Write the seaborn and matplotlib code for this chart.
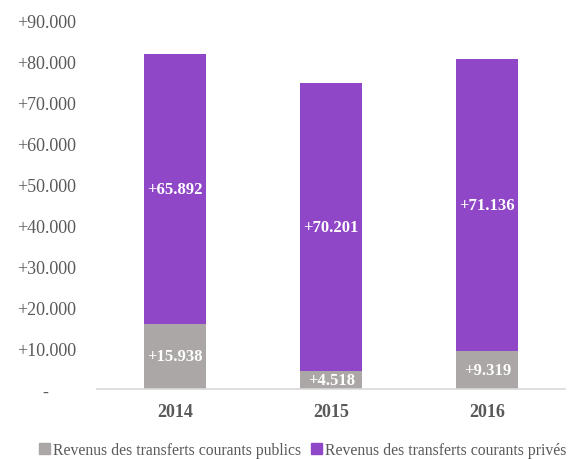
import pandas as pd
import seaborn as sns
import matplotlib.pyplot as plt
from matplotlib.patches import Patch

# Data
years = ['2014', '2015', '2016']
publics = [15938, 4518, 9319]
prives = [65892, 70201, 71136]
yticks = [0, 10000, 20000, 30000, 40000, 50000, 60000, 70000, 80000, 90000]

grey = '#ABA7A6'
purple = '#8F47C8'
text_grey = '#595959'

df = pd.DataFrame({'year': years, 'publics': publics, 'prives': prives})
df['total'] = df['publics'] + df['prives']

sns.set_style('white')
plt.rcParams['font.family'] = ['Liberation Serif', 'DejaVu Serif']

fig = plt.figure(figsize=(5.71, 4.6), dpi=100)
ax = fig.add_axes([0.17, 0.152, 0.82, 0.802])

# stacked: full total in purple, public part drawn over it in grey
sns.barplot(data=df, x='year', y='total', color=purple, width=0.4,
            saturation=1, linewidth=0, ax=ax)
sns.barplot(data=df, x='year', y='publics', color=grey, width=0.4,
            saturation=1, linewidth=0, ax=ax)

fmt = lambda v: '+' + f'{v:,}'.replace(',', '.')

ax.set_xlim(-0.5, 2.5)
ax.set_ylim(0, 90000)
ax.set_yticks(yticks)
ax.set_yticklabels(['-      ' if v == 0 else fmt(v) for v in yticks],
                   fontsize=13, color=text_grey)
ax.set_xticks(range(len(years)))
ax.set_xticklabels(years, fontsize=13, fontweight='bold', color=text_grey)
ax.tick_params(axis='both', length=0)
ax.tick_params(axis='y', pad=15)
ax.tick_params(axis='x', pad=10)
ax.set_xlabel('')
ax.set_ylabel('')
for s in ['top', 'right', 'left']:
    ax.spines[s].set_visible(False)
ax.spines['bottom'].set_color('#D9D9D9')
ax.spines['bottom'].set_linewidth(1.2)

# value labels inside the segments
for i, (p, q) in enumerate(zip(publics, prives)):
    ax.text(i, p / 2, fmt(p), ha='center', va='center', color='white',
            fontsize=12, fontweight='bold')
    ax.text(i, p + q / 2, fmt(q), ha='center', va='center', color='white',
            fontsize=12, fontweight='bold')

handles = [Patch(color=grey, label='Revenus des transferts courants publics'),
           Patch(color=purple, label='Revenus des transferts courants privés')]
leg = fig.legend(handles=handles, loc='center', bbox_to_anchor=(0.53, 0.019),
                 ncol=2, frameon=False, fontsize=11.3, handlelength=0.7,
                 handleheight=0.7, handletextpad=0.2, columnspacing=0.6)
for t in leg.get_texts():
    t.set_color(text_grey)

fig.savefig('out.png', dpi=100)
